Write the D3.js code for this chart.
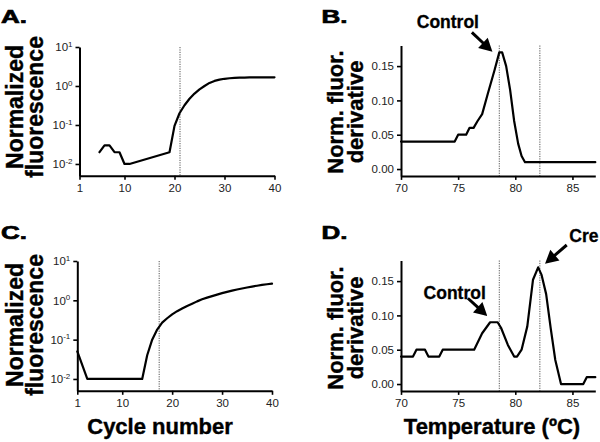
<!DOCTYPE html>
<html><head><meta charset="utf-8">
<script src="https://cdn.jsdelivr.net/npm/d3@7"></script>
<style>
body{margin:0;background:#fff}
svg{display:block}
text{font-family:"Liberation Sans",Arial,Helvetica,sans-serif}
</style>
</head><body>
<svg id="chart" width="600" height="442"></svg>
<script>
// ---- Data ----
const cycleA = [5,6,7,8,9,10,11,19,20,21,22,23,24,25,26,27,28,29,30,31,32,33,34,35,36,37,38,39,40];
const fluorA = [0.02,0.03,0.03,0.02,0.02,0.01,0.01,0.02,0.095,0.2,0.32,0.47,0.64,0.82,1.0,1.2,1.35,1.46,1.53,1.58,1.61,1.63,1.645,1.655,1.66,1.665,1.665,1.665,1.665];

const cycleC = [1,3,14,15,16,17,18,19,20,21,22,23,24,25,26,27,28,29,30,31,32,33,34,35,36,37,38,39,40];
const fluorC = [0.05,0.01,0.01,0.04,0.1,0.18,0.27,0.35,0.44,0.53,0.62,0.72,0.82,0.94,1.06,1.17,1.28,1.4,1.52,1.64,1.76,1.88,2.0,2.12,2.24,2.35,2.46,2.56,2.65];

const tempB  = [70,74.7,75,75.7,76,76.35,76.7,77.1,77.6,78.2,78.6,78.85,79.2,79.55,79.9,80.25,80.55,80.85,87];
const derivB = [0.04,0.04,0.05,0.05,0.06,0.06,0.07,0.08,0.11,0.145,0.17,0.17,0.15,0.115,0.07,0.037,0.019,0.01,0.01];

const tempD  = [70,71.05,71.35,72.1,72.4,73.35,73.65,76.4,77.1,77.8,78.45,78.75,79.35,79.9,80.15,80.55,81.05,81.55,82.0,82.3,82.7,83.1,83.5,84.0,85.95,86.25,87];
const derivD = [0.04,0.04,0.05,0.05,0.04,0.04,0.05,0.05,0.074,0.09,0.09,0.082,0.057,0.04,0.04,0.05,0.084,0.152,0.17,0.159,0.131,0.081,0.035,0.0,0.0,0.01,0.01];

const cycleTicks = [1,10,20,30,40];
const logTicks = [0.01,0.1,1,10];
const tempTicks = [70,75,80,85];
const derivTicks = [0,0.05,0.10,0.15];
const derivLabels = ["0.00","0.05","0.10","0.15"];

const thresholdA = [21.1];
const thresholdC = [17.4];
const meltLines = [78.6,82.15];

// annotations in data coordinates: [label, textX, textY, anchor, arrowFromX, arrowFromY, arrowToX, arrowToY]
const annotB = [["Control",74.1,0.2055,"middle",76.2,0.199,78.0,0.171]];
const annotD = [["Control",74.7,0.1243,"middle",75.85,0.125,77.55,0.0991],
                ["Cre",84.73,0.2074,"start",84.5,0.2026,82.6,0.1754]];

// ---- Drawing ----
const svg = d3.select("#chart");

function panel(p) {
  const g = svg.append("g");
  const x = d3.scaleLinear().domain(p.xDomain).range([p.left, p.right]);
  const y = (p.log ? d3.scaleLog() : d3.scaleLinear()).domain(p.yDomain).range([p.bottom, p.top]);

  g.selectAll("line.ref").data(p.refs).join("line").attr("class","ref")
    .attr("x1", d => x(d)).attr("x2", d => x(d))
    .attr("y1", p.top).attr("y2", p.bottom)
    .attr("stroke", "#555").attr("stroke-width", 1).attr("stroke-dasharray", "1.2,1.2");

  g.append("path").datum(d3.zip(p.xs, p.ys))
    .attr("d", d3.line().x(d => x(d[0])).y(d => y(d[1])))
    .attr("fill", "none").attr("stroke", "#000").attr("stroke-width", 2.2)
    .attr("stroke-linejoin", "round").attr("stroke-linecap", "round");

  const gx = g.append("g").attr("transform", `translate(0,${p.bottom})`)
    .call(d3.axisBottom(x).tickValues(p.xTicks).tickSize(4).tickSizeOuter(0).tickPadding(4));
  const gy = g.append("g").attr("transform", `translate(${p.left},0)`)
    .call(d3.axisLeft(y).tickValues(p.yTicks).tickSize(4).tickSizeOuter(0).tickPadding(3)
      .tickFormat((d, i) => p.log ? "" : p.yLabels[i]));
  [gx, gy].forEach(a => {
    a.select(".domain").attr("stroke", "#000").attr("stroke-width", 2);
    a.selectAll(".tick line").attr("stroke", "#000").attr("stroke-width", 1.6);
    a.selectAll(".tick text").attr("fill", "#222").attr("font-size", 11.5);
  });
  if (p.log) {
    gy.selectAll(".tick text").each(function(d) {
      const t = d3.select(this);
      t.text(null);
      t.append("tspan").text("10");
      t.append("tspan").attr("dy", -4.5).attr("font-size", 8).text(String(Math.round(Math.log10(d))));
    });
  }

  g.append("text").attr("x", p.letterX).attr("y", p.letterY)
    .attr("font-size", 19).attr("font-weight", "bold")
    .attr("textLength", 26).attr("lengthAdjust", "spacingAndGlyphs")
    .attr("stroke", "#000").attr("stroke-width", 0.7)
    .text(p.letter);

  p.yTitle.forEach((t, i) => {
    g.append("text")
      .attr("transform", `translate(${p.yTitleX[i]},${p.yTitleY}) rotate(-90)`)
      .attr("text-anchor", "middle").attr("font-size", p.yTitleSize).attr("font-weight", "bold")
      .attr("stroke", "#000").attr("stroke-width", 0.4)
      .text(t);
  });

  if (p.xTitle) {
    g.append("text").attr("x", p.xTitleX).attr("y", p.xTitleY)
      .attr("text-anchor", "middle").attr("font-size", 22).attr("font-weight", "bold")
      .attr("stroke", "#000").attr("stroke-width", 0.4)
      .text(p.xTitle);
  }

  (p.annots || []).forEach(a => {
    const [label, tx, ty, anchor, fx, fy, ex, ey] = a;
    g.append("text").attr("x", x(tx)).attr("y", y(ty)).attr("text-anchor", anchor)
      .attr("font-size", 17.5).attr("font-weight", "bold")
      .attr("stroke", "#000").attr("stroke-width", 0.3).text(label);
    const x1 = x(fx), y1 = y(fy), x2 = x(ex), y2 = y(ey);
    const ang = Math.atan2(y2 - y1, x2 - x1);
    const hl = 13, hw = 7;
    const bx = x2 - hl * Math.cos(ang), by = y2 - hl * Math.sin(ang);
    g.append("line").attr("x1", x1).attr("y1", y1).attr("x2", bx + Math.cos(ang)).attr("y2", by + Math.sin(ang))
      .attr("stroke", "#000").attr("stroke-width", 3);
    const px = -Math.sin(ang), py = Math.cos(ang);
    g.append("path")
      .attr("d", `M${x2},${y2}L${bx + hw * px},${by + hw * py}L${bx - hw * px},${by - hw * py}Z`)
      .attr("fill", "#000");
  });
}

panel({
  letter: "A.", letterX: 1, letterY: 23,
  xDomain: [1, 40], left: 79.5, right: 274.5,
  yDomain: [0.005, 10], log: true, top: 47, bottom: 175.7,
  xs: cycleA, ys: fluorA, refs: thresholdA,
  xTicks: cycleTicks, yTicks: logTicks,
  yTitle: ["Normalized", "fluorescence"], yTitleX: [23, 43.3], yTitleY: 107, yTitleSize: 23
});
panel({
  letter: "B.", letterX: 321.5, letterY: 23,
  xDomain: [70, 87], left: 401, right: 595.3,
  yDomain: [-0.01, 0.18], log: false, top: 45.5, bottom: 175.9,
  xs: tempB, ys: derivB, refs: meltLines,
  xTicks: tempTicks, yTicks: derivTicks, yLabels: derivLabels,
  yTitle: ["Norm. fluor.", "derivative"], yTitleX: [342.5, 362.5], yTitleY: 112, yTitleSize: 22,
  annots: annotB
});
panel({
  letter: "C.", letterX: 1, letterY: 239.3,
  xDomain: [1, 40], left: 77.3, right: 272,
  yDomain: [0.005, 10], log: true, top: 261, bottom: 390.8,
  xs: cycleC, ys: fluorC, refs: thresholdC,
  xTicks: cycleTicks, yTicks: logTicks,
  yTitle: ["Normalized", "fluorescence"], yTitleX: [23, 43.3], yTitleY: 325, yTitleSize: 23,
  xTitle: "Cycle number", xTitleX: 160, xTitleY: 434
});
panel({
  letter: "D.", letterX: 321.5, letterY: 239.3,
  xDomain: [70, 87], left: 401, right: 595.3,
  yDomain: [-0.01, 0.18], log: false, top: 260.5, bottom: 390.9,
  xs: tempD, ys: derivD, refs: meltLines,
  xTicks: tempTicks, yTicks: derivTicks, yLabels: derivLabels,
  yTitle: ["Norm. fluor.", "derivative"], yTitleX: [342.5, 362.5], yTitleY: 328, yTitleSize: 22,
  xTitle: "Temperature (ºC)", xTitleX: 492, xTitleY: 434,
  annots: annotD
});
</script>
</body></html>
